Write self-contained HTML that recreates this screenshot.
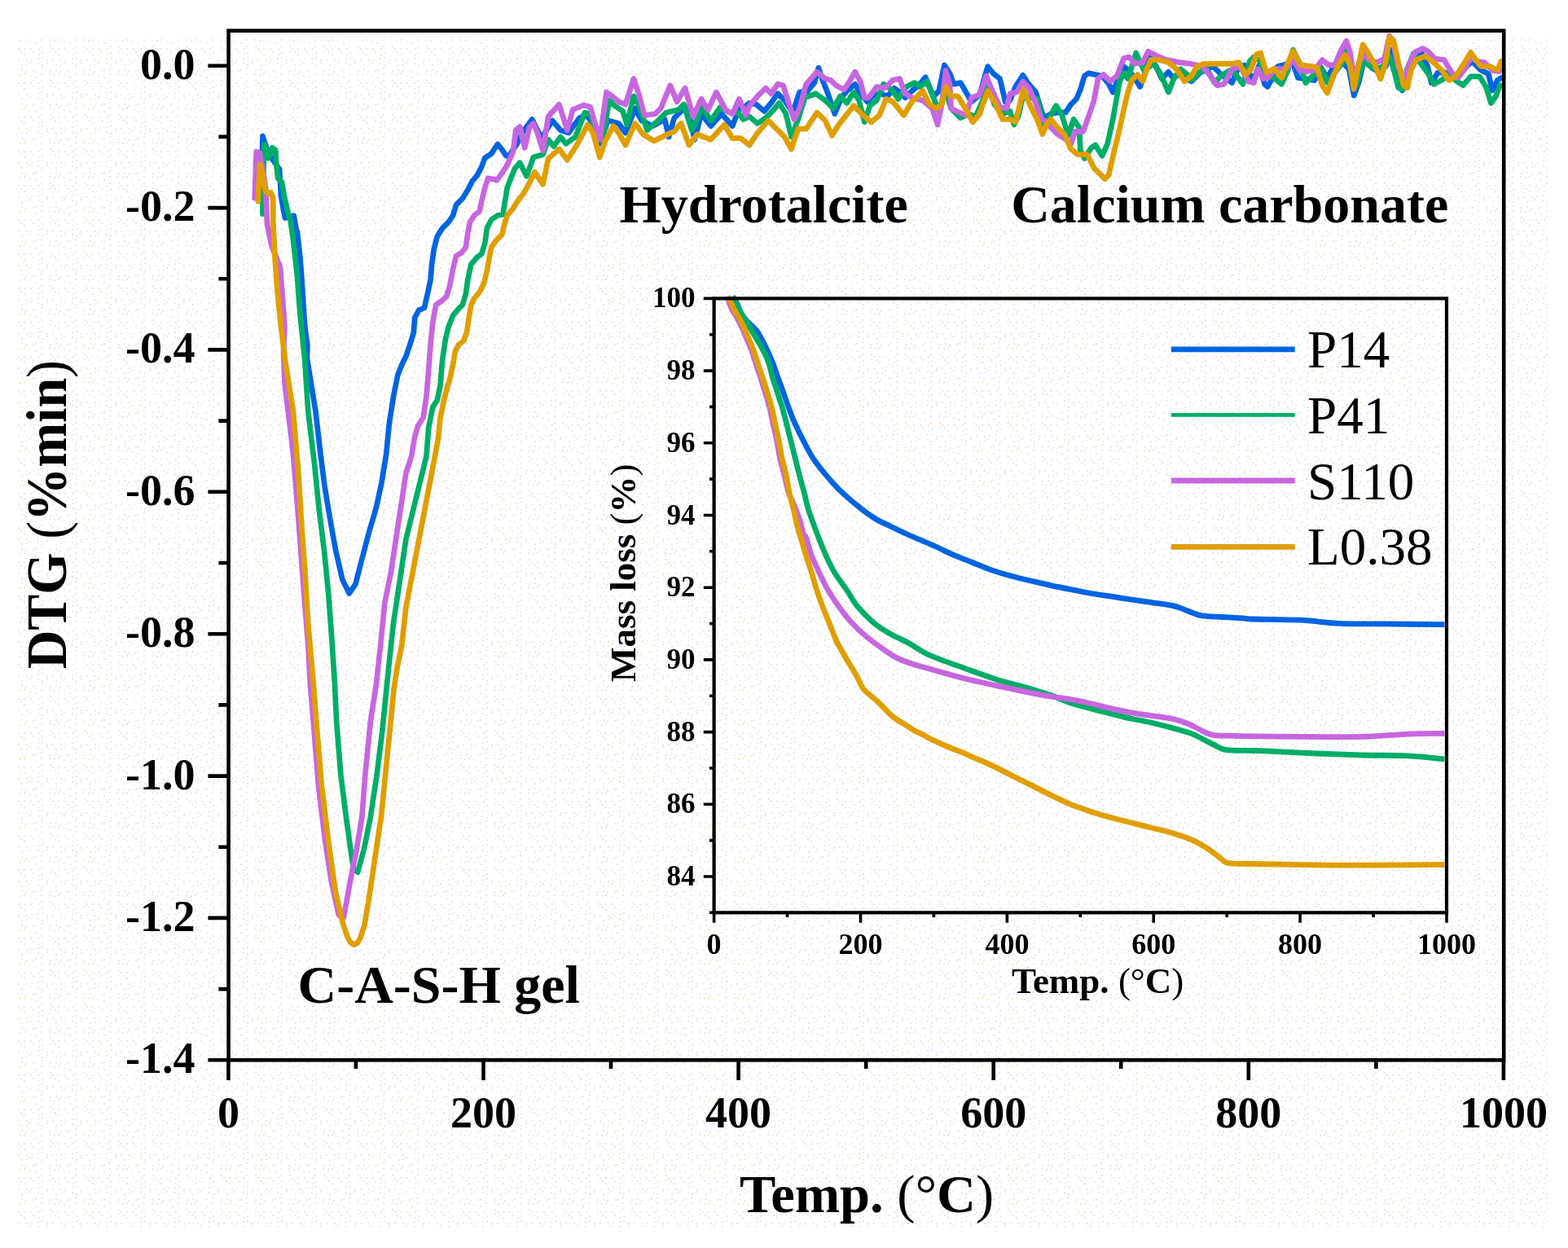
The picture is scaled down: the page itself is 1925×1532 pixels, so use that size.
<!DOCTYPE html><html><head><meta charset="utf-8"><title>DTG</title><style>html,body{margin:0;padding:0;background:#fff;}svg{display:block;}</style></head><body>
<svg width="1925" height="1532" viewBox="0 0 1925 1532" font-family="'Liberation Serif', 'Times New Roman', serif">
<defs><pattern id="dots" x="22" y="48" width="42" height="42" patternUnits="userSpaceOnUse"><rect x="2" y="1" width="2" height="2" fill="#f7e6d2"/><rect x="7" y="0" width="2" height="2" fill="#f7e6d2"/><rect x="14" y="2" width="2" height="2" fill="#ebf7df"/><rect x="21" y="4" width="2" height="2" fill="#e8e8f5"/><rect x="28" y="0" width="2" height="2" fill="#f7e6d2"/><rect x="38" y="0" width="2" height="2" fill="#e8e8f5"/><rect x="0" y="11" width="2" height="2" fill="#f7e6d2"/><rect x="7" y="11" width="2" height="2" fill="#e8e8f5"/><rect x="15" y="11" width="2" height="2" fill="#e8e8f5"/><rect x="25" y="11" width="2" height="2" fill="#f7e6d2"/><rect x="28" y="8" width="2" height="2" fill="#e8e8f5"/><rect x="39" y="8" width="2" height="2" fill="#e8e8f5"/><rect x="3" y="15" width="2" height="2" fill="#f7e6d2"/><rect x="7" y="18" width="2" height="2" fill="#e8e8f5"/><rect x="18" y="15" width="2" height="2" fill="#e8e8f5"/><rect x="25" y="18" width="2" height="2" fill="#def6f6"/><rect x="29" y="16" width="2" height="2" fill="#e8e8f5"/><rect x="39" y="14" width="2" height="2" fill="#ebf7df"/><rect x="0" y="25" width="2" height="2" fill="#e8e8f5"/><rect x="10" y="25" width="2" height="2" fill="#f7e6d2"/><rect x="16" y="24" width="2" height="2" fill="#ebf7df"/><rect x="24" y="23" width="2" height="2" fill="#e8e8f5"/><rect x="29" y="22" width="2" height="2" fill="#e8e8f5"/><rect x="35" y="25" width="2" height="2" fill="#e8e8f5"/><rect x="4" y="31" width="2" height="2" fill="#e8e8f5"/><rect x="10" y="30" width="2" height="2" fill="#ebf7df"/><rect x="14" y="28" width="2" height="2" fill="#f7e6d2"/><rect x="24" y="29" width="2" height="2" fill="#e8e8f5"/><rect x="29" y="31" width="2" height="2" fill="#f7e6d2"/><rect x="35" y="28" width="2" height="2" fill="#f7e6d2"/><rect x="4" y="37" width="2" height="2" fill="#e8e8f5"/><rect x="9" y="39" width="2" height="2" fill="#f7e6d2"/><rect x="18" y="38" width="2" height="2" fill="#e8e8f5"/><rect x="21" y="37" width="2" height="2" fill="#f7e6d2"/><rect x="28" y="35" width="2" height="2" fill="#e8e8f5"/><rect x="39" y="38" width="2" height="2" fill="#e8e8f5"/></pattern></defs>
<rect width="1925" height="1532" fill="#fff"/>
<rect x="22" y="48" width="1878" height="1459" fill="url(#dots)"/>
<path d="M255.4,80.7H280.6 M268.4,167.9H280.6 M255.4,255.1H280.6 M268.4,342.3H280.6 M255.4,429.4H280.6 M268.4,516.6H280.6 M255.4,603.8H280.6 M268.4,691.0H280.6 M255.4,778.2H280.6 M268.4,865.4H280.6 M255.4,952.6H280.6 M268.4,1039.7H280.6 M255.4,1126.9H280.6 M268.4,1214.1H280.6 M255.4,1301.3H280.6 M280.4,1301.3V1326 M436.9,1301.3V1312 M593.5,1301.3V1326 M750.0,1301.3V1312 M906.6,1301.3V1326 M1063.2,1301.3V1312 M1219.7,1301.3V1326 M1376.2,1301.3V1312 M1532.8,1301.3V1326 M1689.4,1301.3V1312 M1845.9,1301.3V1326" stroke="#000" stroke-width="4.6" fill="none"/>
<text x="239.5" y="96.7" font-size="54" font-weight="bold" text-anchor="end">0.0</text>
<text x="239.5" y="271.1" font-size="54" font-weight="bold" text-anchor="end">-0.2</text>
<text x="239.5" y="445.4" font-size="54" font-weight="bold" text-anchor="end">-0.4</text>
<text x="239.5" y="619.8" font-size="54" font-weight="bold" text-anchor="end">-0.6</text>
<text x="239.5" y="794.2" font-size="54" font-weight="bold" text-anchor="end">-0.8</text>
<text x="239.5" y="968.6" font-size="54" font-weight="bold" text-anchor="end">-1.0</text>
<text x="239.5" y="1142.9" font-size="54" font-weight="bold" text-anchor="end">-1.2</text>
<text x="239.5" y="1317.3" font-size="54" font-weight="bold" text-anchor="end">-1.4</text>
<text x="280.4" y="1384" font-size="54" font-weight="bold" text-anchor="middle">0</text>
<text x="593.5" y="1384" font-size="54" font-weight="bold" text-anchor="middle">200</text>
<text x="906.6" y="1384" font-size="54" font-weight="bold" text-anchor="middle">400</text>
<text x="1219.7" y="1384" font-size="54" font-weight="bold" text-anchor="middle">600</text>
<text x="1532.8" y="1384" font-size="54" font-weight="bold" text-anchor="middle">800</text>
<text x="1845.9" y="1384" font-size="54" font-weight="bold" text-anchor="middle">1000</text>
<text x="907.9" y="1487.8" font-size="66.5" font-weight="bold">Temp. <tspan font-weight="normal">(°</tspan>C<tspan font-weight="normal">)</tspan></text>
<text transform="translate(80.8,821.3) rotate(-90) scale(1,1.065)" font-size="66" font-weight="bold">DTG <tspan font-weight="normal">(</tspan>%min<tspan font-weight="normal">)</tspan></text>
<text x="760.5" y="273.2" font-size="66" font-weight="bold">Hydrotalcite</text>
<text x="1241.2" y="272.5" font-size="66" font-weight="bold">Calcium carbonate</text>
<text x="365.5" y="1230.5" font-size="66" font-weight="bold">C-A-S-H gel</text>
<g fill="none" stroke-width="6.7" stroke-linejoin="round" stroke-linecap="round">
<path d="M320.1,243.1 L322.5,167.2 L329.4,188.3 L343.1,207.9 L345.0,240.2 L348.0,257.8 L350.0,267.6 L360.7,264.7 L363.7,282.3 L364.8,283.7 L367.9,310.8 L370.0,335.9 L372.1,369.3 L374.2,400.7 L377.3,423.6 L377.0,440.0 L387.5,505.3 L393.5,557.5 L398.5,596.7 L405.0,635.8 L412.0,675.0 L420.4,711.5 L428.8,728.5 L436.5,716.8 L443.9,688.0 L452.8,654.1 L462.0,622.8 L468.7,591.4 L474.2,557.5 L477.8,520.3 L483.1,486.4 L488.3,460.3 L493.5,447.2 L498.7,436.8 L503.9,421.1 L507.9,408.0 L509.2,389.8 L514.4,380.6 L520.9,378.0 L524.8,361.0 L528.7,342.8 L530.1,324.5 L532.7,306.2 L536.6,290.5 L543.1,280.1 L550.9,272.3 L556.2,264.4 L560.1,251.4 L567.9,243.6 L574.4,233.1 L579.7,222.7 L586.2,214.8 L591.4,204.4 L595.3,193.9 L603.2,188.7 L611.0,177.0 L616.2,183.5 L621.4,191.3 L624.9,191.4 L634.9,176.4 L639.9,164.8 L653.2,146.5 L664.8,169.7 L678.1,148.1 L688.1,159.8 L698.1,163.1 L711.4,144.8 L719.7,141.5 L729.7,153.1 L736.3,176.4 L746.3,148.1 L759.6,151.5 L767.9,163.1 L779.5,133.2 L787.8,148.1 L801.1,154.8 L816.1,146.5 L821.1,168.1 L827.7,144.8 L836.1,136.5 L844.4,131.5 L852.7,171.4 L861.0,139.8 L872.6,154.8 L885.9,139.8 L899.2,154.8 L907.5,133.2 L915.8,129.8 L920.0,126.5 L928.3,128.2 L938.3,136.5 L946.6,126.5 L954.9,114.9 L963.2,123.2 L973.2,138.2 L981.5,113.2 L991.5,111.6 L999.8,101.6 L1004.8,83.3 L1009.8,98.3 L1016.4,114.9 L1024.7,139.8 L1033.0,119.9 L1039.7,111.6 L1049.7,103.2 L1056.3,114.9 L1064.6,124.9 L1072.9,116.5 L1081.2,114.9 L1089.6,118.2 L1097.9,108.2 L1104.5,113.2 L1111.2,119.9 L1119.5,111.6 L1127.8,104.9 L1136.1,94.9 L1146.1,118.2 L1152.7,111.6 L1159.4,80.0 L1166.0,90.0 L1171.0,103.2 L1179.3,101.6 L1186.0,113.2 L1192.6,124.9 L1202.6,116.5 L1212.6,81.6 L1219.2,90.0 L1227.5,96.6 L1234.2,124.9 L1240.0,123.2 L1246.6,106.5 L1255.8,92.4 L1261.6,101.6 L1271.6,113.2 L1276.6,129.8 L1281.6,144.8 L1289.9,139.8 L1298.2,138.1 L1308.2,138.1 L1314.8,128.2 L1321.5,121.5 L1326.4,109.9 L1331.4,93.2 L1336.4,89.9 L1344.7,91.6 L1353.0,93.2 L1361.3,103.2 L1366.3,113.2 L1371.3,99.9 L1379.6,81.6 L1386.3,86.6 L1394.6,98.2 L1399.6,106.5 L1404.6,93.2 L1411.2,70.0 L1419.5,81.6 L1426.2,96.6 L1434.5,88.3 L1439.5,94.9 L1447.8,91.6 L1456.1,96.6 L1462.7,99.9 L1472.7,89.9 L1481.0,84.9 L1489.3,81.6 L1497.7,89.9 L1506.0,96.6 L1512.6,101.6 L1519.3,84.9 L1527.6,79.9 L1532.6,88.3 L1539.2,98.2 L1545.9,79.9 L1552.5,103.2 L1556.2,106.4 L1562.5,95.5 L1568.7,81.4 L1574.9,79.9 L1581.2,78.3 L1587.4,78.3 L1593.6,95.5 L1603.0,97.0 L1613.9,98.6 L1621.7,83.0 L1629.5,95.5 L1637.3,81.4 L1648.2,76.8 L1656.0,84.5 L1662.2,117.3 L1668.4,100.1 L1674.7,73.6 L1684.0,83.0 L1693.4,89.2 L1701.2,81.4 L1707.4,61.2 L1715.2,92.3 L1721.4,111.0 L1729.2,84.5 L1737.0,69.0 L1744.8,64.3 L1752.6,81.4 L1757.3,101.7 L1765.1,89.2 L1774.4,89.2 L1780.7,95.5 L1788.5,95.5 L1799.4,83.0 L1807.1,75.2 L1818.0,86.1 L1827.4,90.8 L1832.1,111.0 L1838.3,98.6 L1843.0,95.5" stroke="#0064E1"/>
<path d="M322.5,262.7 L322.5,240.0 L324.5,177.5 L329.4,194.0 L334.3,181.4 L338.2,184.4 L339.2,201.0 L341.1,218.7 L346.0,223.6 L349.0,241.2 L352.9,257.8 L356.8,272.5 L359.7,292.1 L364.8,338.0 L367.9,379.8 L371.0,411.1 L374.2,442.4 L378.3,505.3 L386.2,570.5 L391.4,622.8 L397.9,675.0 L403.1,727.2 L407.0,779.4 L411.0,840.0 L413.1,885.3 L418.3,950.5 L424.9,1002.8 L431.4,1049.8 L434.0,1066.0 L439.2,1070.7 L447.0,1041.9 L454.9,1002.8 L462.7,950.5 L469.2,898.3 L474.5,846.1 L477.1,820.0 L482.8,766.4 L490.6,714.2 L498.4,662.0 L523.5,560.0 L526.1,525.5 L531.4,499.4 L536.6,491.6 L540.5,473.3 L543.1,442.0 L547.0,415.9 L550.9,400.2 L556.2,387.2 L562.7,379.3 L567.9,374.1 L571.8,361.0 L574.4,342.8 L578.4,324.5 L584.9,316.7 L591.4,311.4 L595.3,298.4 L597.9,280.1 L603.2,269.7 L611.0,264.4 L617.5,263.1 L620.1,246.2 L622.7,230.5 L626.7,220.0 L631.9,207.0 L638.2,199.7 L646.5,216.3 L654.9,193.0 L666.5,189.7 L673.1,171.4 L679.8,179.7 L688.1,168.1 L694.8,176.4 L706.4,168.1 L718.0,138.2 L724.7,139.8 L733.0,163.1 L739.6,173.1 L747.9,123.2 L754.6,129.8 L764.6,136.5 L769.6,153.1 L777.9,118.2 L784.5,129.8 L794.5,159.8 L807.8,148.1 L817.8,138.2 L832.7,134.8 L839.4,128.2 L849.3,159.8 L862.7,131.5 L872.6,148.1 L884.3,131.5 L895.9,138.2 L905.9,138.2 L912.5,146.5 L920.0,143.1 L930.0,151.5 L940.0,144.8 L948.3,136.5 L956.6,126.5 L964.9,139.8 L971.5,168.1 L979.8,146.5 L988.2,119.9 L1001.5,114.9 L1013.1,123.2 L1023.1,133.2 L1031.4,118.2 L1039.7,126.5 L1048.0,113.2 L1054.6,123.2 L1061.3,149.8 L1067.9,129.8 L1076.3,123.2 L1084.6,103.2 L1094.5,109.9 L1102.9,121.5 L1112.8,106.6 L1122.8,101.6 L1129.5,106.6 L1137.8,99.9 L1146.1,119.9 L1152.7,136.5 L1161.0,111.6 L1167.7,133.2 L1179.3,144.8 L1189.3,139.8 L1197.6,143.1 L1205.9,124.9 L1212.6,103.2 L1220.9,128.2 L1230.9,139.8 L1240.0,136.5 L1245.0,153.1 L1250.0,143.1 L1256.6,114.9 L1264.9,119.8 L1273.2,121.5 L1278.2,139.8 L1281.6,156.4 L1289.9,141.5 L1296.5,129.8 L1303.2,139.8 L1311.5,166.4 L1318.1,146.4 L1324.8,156.4 L1326.4,184.7 L1331.4,194.6 L1339.7,181.4 L1344.7,178.0 L1353.0,191.3 L1359.7,176.4 L1366.3,146.4 L1371.3,118.2 L1374.6,99.9 L1379.6,89.9 L1384.6,96.6 L1389.6,81.6 L1394.6,65.0 L1399.6,76.6 L1404.6,86.6 L1416.2,78.3 L1424.5,89.9 L1434.5,113.2 L1441.1,96.6 L1449.5,84.9 L1457.8,91.6 L1462.7,98.2 L1472.7,88.3 L1481.0,83.3 L1491.0,101.6 L1499.3,93.2 L1509.3,86.6 L1516.0,89.9 L1525.9,103.2 L1534.2,75.0 L1539.2,70.0 L1547.5,75.0 L1550.0,95.5 L1556.2,93.9 L1564.0,95.5 L1573.4,103.3 L1581.2,86.1 L1587.4,61.2 L1595.2,76.8 L1603.0,101.7 L1612.3,92.3 L1621.7,84.5 L1629.5,101.7 L1638.8,89.2 L1648.2,76.8 L1652.9,61.2 L1659.1,89.2 L1665.3,104.8 L1673.1,75.2 L1682.5,81.4 L1690.3,84.5 L1698.0,81.4 L1705.8,69.0 L1712.1,89.2 L1716.8,107.9 L1723.0,109.5 L1727.7,84.5 L1735.4,65.8 L1743.2,76.8 L1752.6,89.2 L1760.4,103.3 L1769.7,98.6 L1779.1,90.8 L1786.9,98.6 L1796.2,104.8 L1805.6,93.9 L1816.5,93.9 L1824.3,106.4 L1830.5,126.6 L1836.8,117.3 L1841.4,104.8" stroke="#00AD68"/>
<path d="M312.7,243.1 L314.7,186.3 L318.6,187.3 L323.5,213.8 L326.4,233.4 L327.3,258.8 L328.0,275.0 L333.5,302.0 L344.0,328.0 L346.5,360.0 L349.5,400.0 L348.0,432.0 L349.5,470.0 L352.2,492.2 L360.0,557.5 L365.3,622.8 L369.2,675.0 L373.1,727.2 L378.3,792.5 L380.9,840.0 L385.7,898.3 L390.9,963.6 L398.7,1028.9 L406.6,1081.1 L415.7,1122.9 L422.0,1126.0 L430.1,1081.1 L437.9,1041.9 L444.4,1002.8 L448.4,950.5 L454.9,885.3 L461.9,840.0 L467.1,792.5 L472.3,740.3 L480.2,701.1 L488.0,648.9 L498.4,581.0 L505.2,560.0 L509.2,536.0 L513.1,522.9 L519.6,512.5 L523.5,486.4 L526.1,455.0 L528.7,421.1 L531.4,395.0 L535.3,374.1 L543.1,368.9 L548.3,363.7 L552.2,350.6 L556.2,329.7 L560.1,314.0 L566.6,310.1 L571.8,303.6 L574.4,285.3 L577.1,272.3 L582.3,264.4 L588.8,259.2 L591.4,246.2 L595.3,230.5 L599.2,218.7 L605.8,220.0 L610.0,221.3 L621.6,204.6 L629.9,186.4 L633.2,159.8 L638.2,155.6 L644.1,181.4 L649.9,156.4 L654.9,151.5 L659.8,163.1 L666.5,184.7 L673.1,143.1 L686.4,128.2 L696.4,159.8 L703.1,134.8 L716.4,129.0 L724.7,131.5 L736.3,171.4 L744.6,113.2 L749.6,116.5 L759.6,124.9 L767.9,128.2 L777.9,96.6 L784.5,116.5 L791.2,141.5 L804.5,139.8 L811.1,133.2 L822.8,104.9 L831.1,124.9 L841.0,108.2 L851.0,143.1 L861.0,121.5 L869.3,134.8 L879.3,113.2 L890.9,134.8 L899.2,139.8 L907.5,121.5 L915.8,141.5 L920.0,129.8 L930.0,118.2 L940.0,108.2 L946.6,114.9 L954.9,103.2 L961.6,104.9 L969.9,131.5 L974.9,146.5 L981.5,133.2 L989.8,103.2 L1003.1,88.3 L1013.1,96.6 L1019.7,98.3 L1026.4,104.9 L1036.4,109.9 L1043.0,99.9 L1049.7,88.3 L1056.3,99.9 L1061.3,119.9 L1066.3,119.9 L1076.3,106.6 L1086.2,108.2 L1096.2,98.3 L1104.5,96.6 L1111.2,114.9 L1119.5,119.9 L1132.8,123.2 L1144.4,133.2 L1151.1,153.1 L1156.1,128.2 L1161.0,86.6 L1166.0,103.2 L1167.7,133.2 L1174.3,136.5 L1186.0,141.5 L1192.6,119.9 L1202.6,116.5 L1210.9,93.3 L1217.6,109.9 L1227.5,131.5 L1235.8,133.2 L1240.0,114.9 L1248.3,113.2 L1255.8,99.9 L1263.3,108.2 L1271.6,126.5 L1278.2,146.4 L1284.9,149.8 L1289.9,156.4 L1298.2,164.7 L1306.5,169.7 L1314.8,176.4 L1319.8,161.4 L1329.8,161.4 L1336.4,143.1 L1343.1,123.2 L1348.0,96.6 L1354.7,91.6 L1363.0,99.9 L1371.3,93.2 L1379.6,71.6 L1386.3,70.0 L1392.9,78.3 L1402.9,76.6 L1409.6,63.3 L1419.5,68.3 L1431.2,73.3 L1447.8,76.6 L1461.1,78.3 L1476.1,81.6 L1486.0,93.2 L1494.3,104.9 L1502.6,103.2 L1512.6,84.9 L1522.6,81.6 L1532.6,99.9 L1539.2,101.6 L1544.2,84.9 L1550.8,96.6 L1556.2,95.5 L1565.6,84.5 L1573.4,84.5 L1581.2,83.0 L1587.4,72.1 L1595.2,86.1 L1604.5,87.7 L1613.9,86.1 L1623.2,73.6 L1631.0,79.9 L1638.8,79.9 L1646.6,61.2 L1652.9,50.3 L1657.5,64.3 L1662.2,97.0 L1668.4,76.8 L1674.7,65.8 L1680.9,73.6 L1690.3,76.8 L1699.6,72.1 L1705.8,44.0 L1710.5,53.4 L1716.8,83.0 L1724.5,97.0 L1730.8,76.8 L1737.0,64.3 L1746.4,59.6 L1752.6,62.7 L1761.9,72.1 L1772.9,73.6 L1782.2,89.2 L1790.0,95.5 L1799.4,83.0 L1805.6,70.5 L1813.4,75.2 L1822.7,76.8 L1832.1,86.1 L1839.9,87.7 L1843.0,86.0" stroke="#C766E0"/>
<path d="M316.7,247.1 L319.1,202.0 L322.5,213.8 L325.5,233.4 L329.2,237.7 L332.3,236.3 L335.3,243.1 L335.3,272.5 L337.6,317.1 L340.7,358.9 L344.9,400.7 L350.1,442.4 L360.0,505.3 L366.6,583.6 L370.5,648.9 L374.4,701.1 L378.3,766.4 L384.9,840.0 L388.3,885.3 L394.8,963.6 L402.7,1028.9 L411.8,1094.2 L420.9,1133.3 L426.5,1150.0 L430.0,1156.5 L434.5,1159.8 L439.0,1157.5 L442.5,1151.0 L447.3,1136.0 L452.3,1107.2 L460.1,1055.0 L467.9,1002.8 L473.2,950.5 L478.4,898.3 L483.6,846.1 L487.5,820.0 L493.2,792.5 L498.4,745.5 L534.0,560.0 L537.9,538.6 L540.5,512.5 L544.4,494.2 L548.3,478.5 L552.2,465.5 L556.2,447.2 L558.8,431.5 L562.7,423.7 L569.2,418.5 L573.1,408.0 L575.7,389.8 L578.4,374.1 L582.3,366.3 L588.8,358.4 L594.0,348.0 L597.9,332.3 L600.6,316.7 L603.2,303.6 L608.4,295.8 L616.2,287.9 L620.1,272.3 L622.7,264.4 L629.3,256.6 L635.8,246.2 L642.3,238.3 L648.2,227.9 L656.5,211.3 L666.5,226.3 L673.1,194.7 L686.4,183.0 L696.4,196.3 L708.1,178.1 L721.4,153.1 L728.0,163.1 L736.3,193.0 L743.0,173.1 L752.9,154.8 L759.6,163.1 L767.9,178.1 L779.5,151.5 L789.5,164.8 L802.8,173.1 L816.1,166.4 L827.7,161.4 L836.1,151.5 L846.0,178.1 L856.0,164.8 L872.6,171.4 L889.3,153.1 L899.2,169.7 L909.2,169.7 L920.0,178.1 L930.0,163.1 L943.3,148.1 L953.2,158.1 L963.2,168.1 L971.5,183.0 L979.8,158.1 L989.8,158.1 L1003.1,138.2 L1013.1,148.1 L1021.4,166.4 L1029.7,153.1 L1048.0,129.8 L1059.6,141.5 L1069.6,149.8 L1079.6,141.5 L1087.9,121.5 L1096.2,124.9 L1109.5,141.5 L1119.5,124.9 L1132.8,111.6 L1141.1,128.2 L1149.4,133.2 L1156.1,128.2 L1161.0,106.6 L1167.7,118.2 L1176.0,118.2 L1186.0,134.8 L1194.3,149.8 L1202.6,139.8 L1212.6,111.6 L1220.9,124.9 L1230.9,146.5 L1240.0,146.4 L1246.6,149.8 L1251.6,129.8 L1256.6,109.9 L1263.3,126.5 L1273.2,146.4 L1279.9,164.7 L1284.9,153.1 L1289.9,146.4 L1298.2,156.4 L1306.5,164.7 L1314.8,183.0 L1323.1,189.7 L1334.8,189.7 L1343.1,206.3 L1356.4,219.6 L1361.3,214.6 L1368.0,184.7 L1373.0,164.7 L1379.6,134.8 L1384.6,113.2 L1389.6,98.2 L1396.3,91.6 L1402.9,99.9 L1407.9,84.9 L1412.9,73.3 L1422.8,73.3 L1434.5,76.6 L1444.5,84.9 L1454.4,99.9 L1462.7,93.2 L1469.4,81.6 L1477.7,78.3 L1497.7,78.3 L1512.6,78.3 L1520.9,76.6 L1529.3,91.6 L1535.9,84.9 L1542.5,66.6 L1547.5,65.0 L1554.7,89.2 L1564.0,84.5 L1573.4,95.5 L1581.2,76.8 L1587.4,62.7 L1596.8,79.9 L1609.2,81.4 L1617.0,83.0 L1623.2,104.8 L1629.5,114.2 L1637.3,92.3 L1645.1,76.8 L1651.3,67.4 L1657.5,79.9 L1662.2,109.5 L1666.9,84.5 L1673.1,54.9 L1679.4,64.3 L1687.1,78.3 L1694.9,97.0 L1701.2,76.8 L1705.8,45.6 L1710.5,48.7 L1716.8,76.8 L1723.0,104.8 L1727.7,107.9 L1732.3,86.1 L1738.6,73.6 L1749.5,69.0 L1760.4,76.8 L1771.3,87.7 L1779.1,98.6 L1786.9,93.9 L1796.2,79.9 L1805.6,64.3 L1811.8,73.6 L1818.0,81.4 L1828.9,81.4 L1838.3,86.1 L1843.0,75.2" stroke="#E09E00"/>
</g>
<rect x="280.6" y="37.7" width="1565.6" height="1263.6" fill="none" stroke="#000" stroke-width="4.6"/>
<path d="M871,1120.3H876.6 M863.8,1076.0H876.6 M871,1031.6H876.6 M863.8,987.3H876.6 M871,942.9H876.6 M863.8,898.6H876.6 M871,854.2H876.6 M863.8,809.9H876.6 M871,765.5H876.6 M863.8,721.2H876.6 M871,676.8H876.6 M863.8,632.5H876.6 M871,588.1H876.6 M863.8,543.8H876.6 M871,499.4H876.6 M863.8,455.1H876.6 M871,410.7H876.6 M863.8,366.4H876.6 M876.6,1120.3V1132.7 M966.5,1120.3V1126 M1056.5,1120.3V1132.7 M1146.4,1120.3V1126 M1236.4,1120.3V1132.7 M1326.3,1120.3V1126 M1416.2,1120.3V1132.7 M1506.2,1120.3V1126 M1596.1,1120.3V1132.7 M1686.1,1120.3V1126 M1776.0,1120.3V1132.7" stroke="#000" stroke-width="3.6" fill="none"/>
<text x="853.5" y="1087.0" font-size="35" font-weight="bold" text-anchor="end">84</text>
<text x="853.5" y="998.3" font-size="35" font-weight="bold" text-anchor="end">86</text>
<text x="853.5" y="909.6" font-size="35" font-weight="bold" text-anchor="end">88</text>
<text x="853.5" y="820.9" font-size="35" font-weight="bold" text-anchor="end">90</text>
<text x="853.5" y="732.2" font-size="35" font-weight="bold" text-anchor="end">92</text>
<text x="853.5" y="643.5" font-size="35" font-weight="bold" text-anchor="end">94</text>
<text x="853.5" y="554.8" font-size="35" font-weight="bold" text-anchor="end">96</text>
<text x="853.5" y="466.1" font-size="35" font-weight="bold" text-anchor="end">98</text>
<text x="853.5" y="377.4" font-size="35" font-weight="bold" text-anchor="end">100</text>
<text x="876.6" y="1171" font-size="36" font-weight="bold" text-anchor="middle">0</text>
<text x="1056.5" y="1171" font-size="36" font-weight="bold" text-anchor="middle">200</text>
<text x="1236.4" y="1171" font-size="36" font-weight="bold" text-anchor="middle">400</text>
<text x="1416.2" y="1171" font-size="36" font-weight="bold" text-anchor="middle">600</text>
<text x="1596.1" y="1171" font-size="36" font-weight="bold" text-anchor="middle">800</text>
<text x="1776.0" y="1171" font-size="36" font-weight="bold" text-anchor="middle">1000</text>
<text x="1242" y="1219.1" font-size="45" font-weight="bold">Temp. <tspan font-weight="normal">(°</tspan>C<tspan font-weight="normal">)</tspan></text>
<text transform="translate(780,837) rotate(-90)" font-size="45" font-weight="bold">Mass loss <tspan font-weight="normal">(</tspan>%<tspan font-weight="normal">)</tspan></text>
<g fill="none" stroke-width="6.8" stroke-linejoin="round" stroke-linecap="butt">
<path d="M900.0,364.0 C900.8,365.5 903.2,369.3 905.0,373.0 C906.8,376.7 908.3,382.4 910.5,386.1 C912.7,389.9 915.3,392.2 918.4,395.5 C921.5,398.8 925.9,402.2 928.9,406.0 C931.9,409.8 934.0,414.3 936.2,418.5 C938.5,422.7 940.3,426.5 942.4,431.0 C944.5,435.5 946.8,440.7 948.7,445.6 C950.6,450.5 952.1,455.4 953.9,460.3 C955.6,465.2 957.5,470.0 959.2,474.9 C961.0,479.8 962.7,484.6 964.4,489.5 C966.1,494.4 967.7,499.0 969.6,504.1 C971.5,509.2 973.1,513.7 976.0,520.0 C978.9,526.3 983.0,534.7 986.7,541.8 C990.4,548.9 993.6,555.7 998.2,562.7 C1002.8,569.7 1008.5,576.7 1014.4,583.6 C1020.3,590.5 1026.4,597.5 1033.7,604.4 C1041.0,611.3 1051.3,619.9 1058.2,625.3 C1065.1,630.7 1069.4,633.6 1075.0,637.0 C1080.6,640.4 1085.3,642.2 1092.0,645.5 C1098.7,648.8 1107.9,653.2 1115.3,656.5 C1122.7,659.8 1130.4,663.0 1136.2,665.5 C1142.0,668.0 1144.3,668.9 1150.0,671.5 C1155.7,674.1 1163.2,677.9 1170.5,681.1 C1177.8,684.3 1186.2,687.4 1194.0,690.5 C1201.8,693.6 1209.7,697.1 1217.5,699.9 C1225.3,702.6 1233.2,704.9 1241.0,707.0 C1248.8,709.1 1256.3,710.9 1264.5,712.8 C1272.7,714.7 1281.6,716.8 1290.0,718.6 C1298.4,720.4 1306.5,722.0 1314.8,723.6 C1323.1,725.2 1331.3,727.1 1339.6,728.5 C1347.9,729.9 1356.1,731.0 1364.4,732.2 C1372.7,733.5 1380.9,734.8 1389.2,736.0 C1397.5,737.2 1405.7,738.5 1414.0,739.7 C1422.3,740.9 1432.6,742.2 1438.8,743.4 C1445.0,744.6 1447.1,745.6 1451.2,747.1 C1455.3,748.6 1459.5,750.7 1463.6,752.1 C1467.7,753.5 1469.8,754.9 1476.0,755.8 C1482.2,756.7 1492.5,757.0 1500.8,757.5 C1509.1,758.0 1519.1,758.4 1525.6,758.8 C1532.1,759.2 1528.3,759.6 1540.0,760.0 C1551.7,760.4 1578.3,760.3 1595.9,761.2 C1613.5,762.1 1628.1,764.6 1645.5,765.4 C1662.9,766.2 1679.2,765.7 1700.5,765.9 C1721.8,766.1 1761.3,766.6 1773.5,766.7" stroke="#0064E1"/>
<path d="M899.0,364.0 C899.6,364.9 901.6,367.1 902.8,369.4 C903.9,371.7 904.2,374.5 905.9,377.8 C907.6,381.1 910.8,385.2 913.2,389.2 C915.6,393.2 918.1,397.6 920.5,401.8 C922.9,406.0 925.4,410.1 927.8,414.3 C930.2,418.5 932.8,422.6 935.1,426.8 C937.4,431.0 939.6,435.2 941.4,439.4 C943.1,443.6 944.4,447.7 945.6,451.9 C946.8,456.1 947.5,460.2 948.7,464.4 C949.9,468.6 951.5,472.6 952.9,477.0 C954.3,481.4 955.9,486.7 957.1,490.5 C958.3,494.3 958.8,494.9 960.3,500.0 C961.8,505.1 964.0,513.9 965.8,520.9 C967.6,527.9 969.2,534.8 971.0,541.8 C972.8,548.8 974.5,555.7 976.3,562.7 C978.0,569.7 979.7,576.7 981.5,583.6 C983.3,590.5 985.4,597.5 987.2,604.4 C989.0,611.3 990.3,618.3 992.4,625.3 C994.5,632.3 997.7,640.4 999.8,646.2 C1001.9,652.0 1002.6,654.1 1005.0,660.0 C1007.4,665.9 1010.8,674.7 1014.0,681.8 C1017.2,688.9 1020.3,695.7 1024.5,702.7 C1028.7,709.7 1034.4,716.7 1039.1,723.6 C1043.8,730.5 1047.0,737.5 1052.7,744.4 C1058.5,751.3 1066.6,759.5 1073.6,765.3 C1080.5,771.0 1087.5,774.9 1094.4,778.9 C1101.4,782.9 1107.4,785.0 1115.3,789.3 C1123.2,793.6 1130.4,799.4 1141.8,804.5 C1153.2,809.6 1169.7,815.1 1183.6,820.1 C1197.5,825.1 1212.6,830.8 1225.3,834.8 C1238.0,838.8 1249.2,840.9 1260.0,844.0 C1270.8,847.1 1280.9,850.3 1290.0,853.5 C1299.1,856.7 1306.5,860.3 1314.8,863.0 C1323.1,865.7 1331.3,867.7 1339.6,869.9 C1347.9,872.1 1356.1,874.0 1364.4,876.1 C1372.7,878.2 1380.9,880.4 1389.2,882.3 C1397.5,884.1 1405.7,885.3 1414.0,887.2 C1422.3,889.1 1430.5,891.2 1438.8,893.5 C1447.1,895.8 1457.0,898.4 1463.6,900.9 C1470.2,903.4 1473.5,905.8 1478.5,908.3 C1483.5,910.8 1488.9,913.7 1493.4,915.8 C1498.0,917.9 1498.0,919.8 1505.8,920.7 C1513.6,921.7 1530.5,921.2 1540.0,921.5 C1549.5,921.8 1549.9,921.7 1562.9,922.3 C1575.9,922.9 1599.6,924.2 1617.9,925.0 C1636.2,925.8 1654.6,926.5 1673.0,927.0 C1691.4,927.5 1711.3,927.0 1728.1,927.8 C1744.8,928.6 1765.9,931.2 1773.5,931.9" stroke="#00AD68"/>
<path d="M894.0,364.0 C894.1,364.9 893.6,366.6 894.5,369.4 C895.4,372.2 897.4,377.2 899.2,380.9 C901.0,384.5 903.4,387.5 905.5,391.3 C907.6,395.1 909.8,399.7 911.7,403.9 C913.6,408.1 915.2,412.2 917.0,416.4 C918.8,420.6 920.6,424.7 922.2,428.9 C923.8,433.1 925.0,437.3 926.4,441.5 C927.8,445.7 929.1,449.8 930.5,454.0 C931.9,458.2 933.3,462.1 934.7,466.5 C936.1,470.9 937.5,475.6 938.9,480.1 C940.3,484.6 941.9,489.4 943.1,493.7 C944.3,498.0 945.2,501.7 946.2,506.2 C947.2,510.7 947.9,515.0 949.2,520.9 C950.5,526.8 952.5,534.8 953.9,541.8 C955.3,548.8 956.1,555.7 957.6,562.7 C959.1,569.7 961.3,576.7 963.0,583.6 C964.7,590.5 966.2,598.4 968.0,604.0 C969.8,609.6 971.3,611.7 973.5,617.0 C975.7,622.3 978.9,629.5 981.0,635.8 C983.1,642.1 984.7,650.4 986.2,654.6 C987.7,658.8 988.3,656.4 990.0,660.9 C991.7,665.4 993.7,674.8 996.3,681.8 C998.9,688.8 1002.4,695.7 1005.7,702.7 C1009.0,709.7 1012.1,716.7 1016.1,723.6 C1020.1,730.5 1024.7,737.5 1029.7,744.4 C1034.8,751.3 1040.8,759.2 1046.4,765.3 C1052.0,771.4 1056.8,775.8 1063.1,781.0 C1069.4,786.2 1077.8,792.4 1084.0,796.7 C1090.2,801.1 1094.0,804.1 1100.0,807.1 C1106.0,810.1 1113.0,812.6 1120.0,815.0 C1127.0,817.4 1131.2,818.2 1141.8,821.2 C1152.4,824.2 1169.7,829.2 1183.6,832.7 C1197.5,836.2 1212.6,839.3 1225.3,842.1 C1238.0,844.9 1249.2,847.2 1260.0,849.4 C1270.8,851.5 1280.9,853.5 1290.0,855.0 C1299.1,856.5 1306.5,857.2 1314.8,858.7 C1323.1,860.2 1331.3,861.8 1339.6,863.7 C1347.9,865.6 1356.1,868.0 1364.4,869.9 C1372.7,871.8 1380.9,873.4 1389.2,874.9 C1397.5,876.4 1405.7,877.4 1414.0,878.6 C1422.3,879.8 1431.3,880.6 1438.8,882.3 C1446.2,883.9 1452.9,886.2 1458.7,888.5 C1464.5,890.8 1468.5,893.6 1473.5,895.9 C1478.5,898.2 1481.8,900.9 1488.4,902.1 C1495.0,903.4 1495.3,903.0 1513.2,903.4 C1531.1,903.8 1569.3,904.2 1595.9,904.4 C1622.5,904.6 1651.0,904.9 1673.0,904.4 C1695.0,903.9 1711.3,901.8 1728.1,901.1 C1744.8,900.4 1765.9,900.4 1773.5,900.3" stroke="#C766E0"/>
<path d="M893.0,364.0 C893.6,364.9 895.0,366.6 896.5,369.4 C898.0,372.2 899.8,377.2 901.7,380.9 C903.6,384.5 905.9,387.5 908.0,391.3 C910.1,395.1 912.3,399.7 914.2,403.9 C916.1,408.1 917.8,412.2 919.5,416.4 C921.2,420.6 923.1,424.7 924.7,428.9 C926.3,433.1 927.5,437.3 928.9,441.5 C930.3,445.7 931.6,449.8 933.0,454.0 C934.4,458.2 935.8,462.1 937.2,466.5 C938.6,470.9 940.0,475.6 941.4,480.1 C942.8,484.6 944.4,489.4 945.6,493.7 C946.8,498.0 947.7,501.7 948.7,506.2 C949.7,510.7 950.4,515.0 951.7,520.9 C953.0,526.8 955.0,534.8 956.4,541.8 C957.8,548.8 958.6,555.7 960.1,562.7 C961.6,569.7 963.8,576.7 965.3,583.6 C966.8,590.5 967.4,597.5 968.9,604.4 C970.4,611.3 972.5,618.3 974.2,625.3 C975.9,632.3 977.4,640.4 978.9,646.2 C980.4,652.0 981.2,654.1 983.0,660.0 C984.8,665.9 987.3,674.7 989.5,681.8 C991.7,688.9 994.1,695.7 996.3,702.7 C998.5,709.7 1000.2,716.7 1002.5,723.6 C1004.8,730.5 1007.2,737.5 1009.8,744.4 C1012.4,751.3 1015.4,758.3 1018.2,765.3 C1021.0,772.3 1024.1,780.8 1026.6,786.2 C1029.1,791.7 1030.5,793.5 1033.0,798.0 C1035.5,802.5 1038.5,807.7 1041.6,813.0 C1044.7,818.3 1048.7,824.5 1051.8,830.0 C1054.9,835.5 1056.9,841.5 1060.0,845.7 C1063.1,849.9 1066.9,852.0 1070.4,855.1 C1073.9,858.2 1077.4,861.1 1080.9,864.5 C1084.4,867.9 1087.8,872.3 1091.3,875.5 C1094.8,878.7 1098.3,881.5 1101.8,883.9 C1105.3,886.3 1108.7,887.9 1112.2,890.1 C1115.7,892.3 1119.2,895.0 1122.7,896.9 C1126.2,898.8 1129.9,900.1 1133.1,901.8 C1136.3,903.4 1137.0,904.4 1141.8,906.8 C1146.6,909.2 1155.0,913.0 1162.0,916.0 C1169.0,919.0 1178.3,922.4 1183.6,924.6 C1188.9,926.8 1188.3,926.8 1194.0,929.3 C1199.7,931.8 1209.7,935.9 1217.5,939.6 C1225.3,943.3 1233.2,947.5 1241.0,951.4 C1248.8,955.3 1256.3,959.0 1264.5,963.1 C1272.7,967.2 1281.6,971.9 1290.0,976.0 C1298.4,980.1 1306.5,984.3 1314.8,987.7 C1323.1,991.1 1331.3,993.7 1339.6,996.4 C1347.9,999.1 1356.1,1001.5 1364.4,1003.8 C1372.7,1006.1 1380.9,1007.9 1389.2,1010.0 C1397.5,1012.1 1405.7,1014.1 1414.0,1016.2 C1422.3,1018.3 1430.5,1019.9 1438.8,1022.4 C1447.1,1024.9 1456.1,1027.8 1463.6,1031.1 C1471.0,1034.4 1477.7,1038.6 1483.5,1042.3 C1489.3,1046.0 1494.2,1050.5 1498.3,1053.4 C1502.4,1056.3 1501.3,1058.4 1508.3,1059.6 C1515.2,1060.8 1526.3,1060.2 1540.0,1060.5 C1553.7,1060.8 1568.2,1061.0 1590.4,1061.3 C1612.6,1061.6 1642.5,1062.2 1673.0,1062.2 C1703.5,1062.2 1756.8,1061.5 1773.5,1061.3" stroke="#E09E00"/>
</g>
<rect x="876.6" y="366.4" width="899.4" height="753.9" fill="none" stroke="#000" stroke-width="4.2"/>
<path d="M1437.8,428.9H1589.7" stroke="#0064E1" stroke-width="6.6"/>
<text x="1605" y="450.6" font-size="65">P14</text>
<path d="M1437.8,509.4H1589.7" stroke="#00AD68" stroke-width="4.8"/>
<text x="1605" y="532" font-size="65">P41</text>
<path d="M1437.8,590H1589.7" stroke="#C766E0" stroke-width="6.8"/>
<text x="1605" y="612.5" font-size="65">S110</text>
<path d="M1437.8,671.3H1589.7" stroke="#E09E00" stroke-width="6.7"/>
<text x="1605" y="693" font-size="65">L0.38</text>
</svg></body></html>
